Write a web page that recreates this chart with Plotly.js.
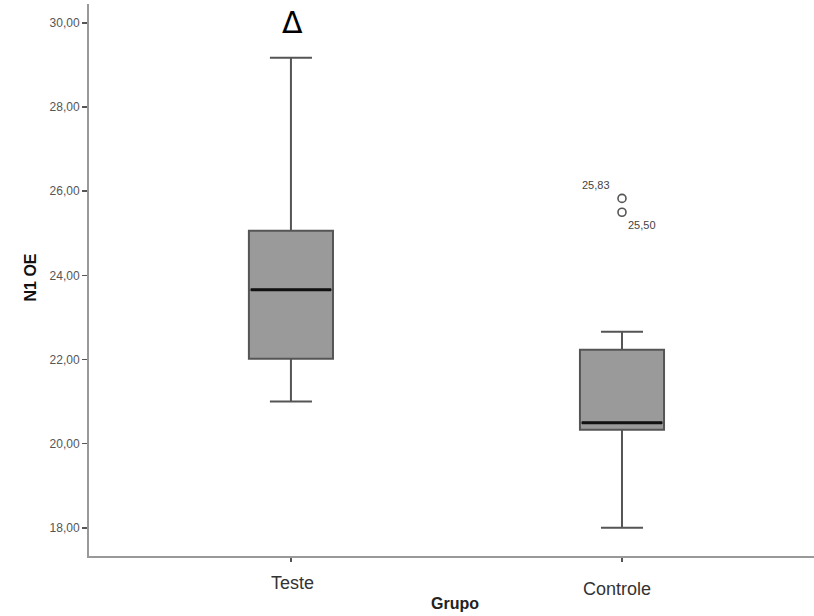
<!DOCTYPE html>
<html>
<head>
<meta charset="utf-8">
<script src="https://cdn.plot.ly/plotly-3.0.1.min.js"></script>
<style>html,body{margin:0;padding:0;background:#fff;}#chart{width:814px;height:616px;}</style>
</head>
<body>
<div id="chart"></div>
<script>
const categories = ["Teste", "Controle"];
const q1 = [22.02, 20.33];
const median = [23.66, 20.50];
const q3 = [25.06, 22.23];
const lowerfence = [21.00, 18.00];
const upperfence = [29.17, 22.66];
const outlierGroup = [1, 1];
const outlierValues = [25.83, 25.50];
const outlierLabels = ["25,83", "25,50"];
const yTicks = [18, 20, 22, 24, 26, 28, 30];

const pos = categories.map((c, i) => i);
const boxW = 0.254;

const traces = [{
  type: "box",
  x: pos,
  q1: q1, median: median, q3: q3,
  lowerfence: lowerfence, upperfence: upperfence,
  width: boxW,
  whiskerwidth: 0.5,
  boxpoints: false,
  fillcolor: "#9a9a9a",
  line: {color: "#555555", width: 2},
  hoverinfo: "skip",
  showlegend: false
}];

// thick black median lines
pos.forEach((p, i) => {
  traces.push({
    type: "scatter", mode: "lines",
    x: [p - boxW / 2 + 0.006, p + boxW / 2 - 0.006],
    y: [median[i], median[i]],
    line: {color: "#111111", width: 3},
    hoverinfo: "skip", showlegend: false
  });
});

traces.push({
  type: "scatter", mode: "markers",
  x: outlierGroup, y: outlierValues,
  marker: {symbol: "circle-open", size: 8, color: "#555555", line: {width: 1.6, color: "#555555"}},
  hoverinfo: "skip", showlegend: false
});

const annotations = [];
categories.forEach((c, i) => {
  annotations.push({
    x: pos[i], xref: "x", y: 0, yref: "paper", yanchor: "top",
    yshift: i === 0 ? -15 : -21, xshift: i === 0 ? 2 : -5,
    text: c, showarrow: false,
    font: {family: "Liberation Sans, Arial", size: 18, color: "#333333"}
  });
});
// outlier labels
annotations.push({
  x: outlierGroup[0], xref: "x", y: outlierValues[0], yref: "y",
  xanchor: "right", xshift: -10, yshift: 13,
  text: outlierLabels[0], showarrow: false,
  font: {family: "Liberation Sans, Arial", size: 11, color: "#444444"}
});
annotations.push({
  x: outlierGroup[1], xref: "x", y: outlierValues[1], yref: "y",
  xanchor: "left", xshift: 4, yshift: -13,
  text: outlierLabels[1], showarrow: false,
  font: {family: "Liberation Sans, Arial", size: 11, color: "#444444"}
});
// Delta marker
annotations.push({
  x: pos[0], xref: "x", yref: "paper", y: 1, yanchor: "middle", yshift: -18,
  text: "Δ", showarrow: false, xshift: 2,
  font: {family: "DejaVu Sans, Liberation Sans", size: 30, color: "#000000"}
});
// axis titles
annotations.push({
  x: 0, xref: "paper", xshift: -70, y: 0.5, yref: "paper", yshift: 2,
  text: "<b>N1 OE</b>", textangle: -90, showarrow: false,
  font: {family: "Liberation Sans, Arial", size: 16, color: "#111111"}
});
annotations.push({
  x: 0.5, xref: "paper", xshift: 3, y: 0, yref: "paper", yanchor: "top", yshift: -37,
  text: "<b>Grupo</b>", showarrow: false,
  font: {family: "Liberation Sans, Arial", size: 16, color: "#222222"}
});

const layout = {
  width: 814, height: 616,
  margin: {l: 89, r: 0, t: 4, b: 60},
  paper_bgcolor: "#ffffff", plot_bgcolor: "#ffffff",
  separators: ",.",
  xaxis: {
    type: "linear", range: [-0.61, 1.58],
    tickvals: pos, showticklabels: false,
    ticks: "outside", ticklen: 4, tickcolor: "#555555", tickwidth: 1.5,
    showgrid: false, zeroline: false,
    showline: true, linecolor: "#999999", linewidth: 2
  },
  yaxis: {
    range: [17.33, 30.45],
    tickvals: yTicks, tickformat: ".2f",
    ticks: "outside", ticklen: 5, tickcolor: "#555555", tickwidth: 1.5,
    tickfont: {family: "Liberation Sans, Arial", size: 12, color: "#555555"},
    showgrid: false, zeroline: false,
    showline: true, linecolor: "#999999", linewidth: 2
  },
  annotations: annotations
};

Plotly.newPlot("chart", traces, layout, {displayModeBar: false, staticPlot: true});
</script>
</body>
</html>
